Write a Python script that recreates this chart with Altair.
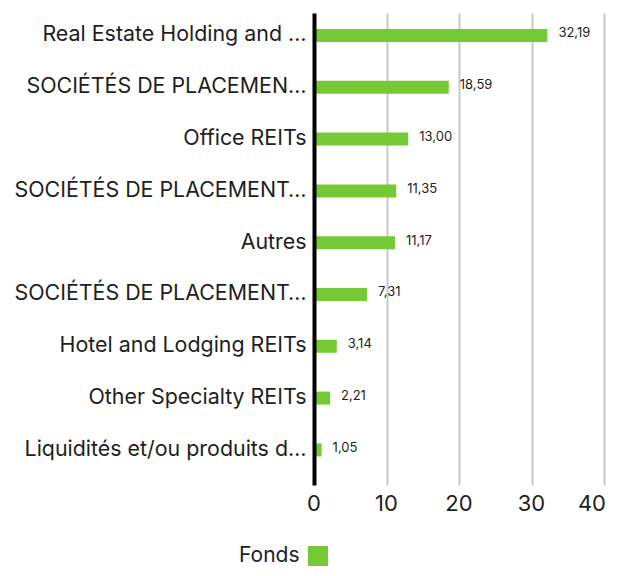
import json
import altair as alt
import pandas as pd

labels = [
    "Real Estate Holding and …",
    "SOCIÉTÉS DE PLACEMEN…",
    "Office REITs",
    "SOCIÉTÉS DE PLACEMENT…",
    "Autres",
    "SOCIÉTÉS DE PLACEMENT…",
    "Hotel and Lodging REITs",
    "Other Specialty REITs",
    "Liquidités et/ou produits d…",
]
values = [32.19, 18.59, 13.00, 11.35, 11.17, 7.31, 3.14, 2.21, 1.05]
series_name = "Fonds"
x_ticks = [0, 10, 20, 30, 40]

GREEN = "#74C935"
TEXT = "#1e1e1e"
FONT = "Inter"
W, H = 290, 472

df = pd.DataFrame({
    "idx": list(range(len(labels))),
    "value": values,
    "txt": [f"{v:.2f}".replace(".", ",") for v in values],
    "series": [series_name] * len(values),
})
ticks_df = pd.DataFrame({"tick": x_ticks})

label_expr = "[" + ",".join(json.dumps(l, ensure_ascii=False) for l in labels) + "][datum.value]"

x_axis = alt.Axis(
    title=None, values=x_ticks, ticks=False, domain=False, grid=True,
    gridColor="#c8c8c8", gridWidth=2, labels=False,
)
x_scale = alt.Scale(domain=[0, 40], nice=False)

y_enc = alt.Y(
    "idx:O",
    sort="ascending",
    scale=alt.Scale(paddingInner=0.2, paddingOuter=0.156, align=0.11),
    axis=alt.Axis(
        title=None, labelExpr=label_expr, ticks=False, domain=True,
        domainColor="black", domainWidth=4, labelFontSize=21.4, labelColor=TEXT,
        labelPadding=8, labelLimit=0, grid=False, zindex=1, labelFont=FONT,
    ),
)

bars = alt.Chart(df).mark_bar(size=13).encode(
    y=y_enc,
    x=alt.X("value:Q", scale=x_scale, axis=x_axis),
    color=alt.Color(
        "series:N",
        scale=alt.Scale(domain=[series_name], range=[GREEN]),
        legend=alt.Legend(
            title=series_name, titleOrient="left", labelExpr="''",
            symbolType="square", symbolSize=400, symbolStrokeWidth=0,
            orient="none", legendX=-75, legendY=533, titleFontSize=21,
            titleFontWeight="normal", titleColor=TEXT, titleFont=FONT,
            titlePadding=8, titleBaseline="middle",
        ),
    ),
)

texts = alt.Chart(df).mark_text(
    align="left", baseline="middle", dx=11, dy=-2, fontSize=13,
    color=TEXT, font=FONT,
).encode(
    y=alt.Y("idx:O", sort="ascending"),
    x=alt.X("value:Q", scale=x_scale, axis=x_axis),
    text="txt:N",
)

# x tick labels drawn as text so the last one stays inside the page
tick_inner = alt.Chart(ticks_df).transform_filter(
    f"datum.tick < {x_ticks[-1]}"
).mark_text(
    align="center", baseline="top", fontSize=22, color=TEXT, font=FONT,
).encode(
    x=alt.X("tick:Q", scale=x_scale, axis=x_axis),
    y=alt.value(H + 9),
    text=alt.Text("tick:Q"),
)
tick_last = alt.Chart(ticks_df).transform_filter(
    f"datum.tick == {x_ticks[-1]}"
).mark_text(
    align="right", baseline="top", fontSize=22, color=TEXT, font=FONT, dx=2,
).encode(
    x=alt.X("tick:Q", scale=x_scale, axis=x_axis),
    y=alt.value(H + 9),
    text=alt.Text("tick:Q"),
)

chart = alt.layer(bars, texts, tick_inner, tick_last).properties(
    width=W, height=H,
    autosize=alt.AutoSizeParams(type="none"),
    padding={"left": 306, "top": 5, "right": 5, "bottom": 82},
).configure_view(stroke=None)

chart.save("out.html", embed_options={"renderer": "svg", "actions": False})
